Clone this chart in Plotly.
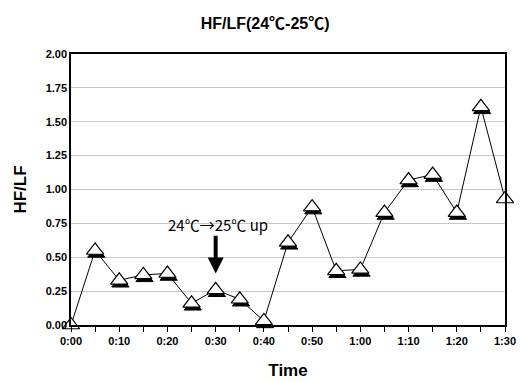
import plotly.graph_objects as go

times = ["0:00","0:05","0:10","0:15","0:20","0:25","0:30","0:35","0:40","0:45",
         "0:50","0:55","1:00","1:05","1:10","1:15","1:20","1:25","1:30"]
hf_lf = [0.00,0.55,0.33,0.37,0.38,0.16,0.26,0.19,0.03,0.61,
         0.87,0.40,0.41,0.83,1.07,1.11,0.83,1.61,0.93]
y_ticks = [0,0.25,0.5,0.75,1.0,1.25,1.5,1.75,2.0]
y_ticklabels = ["0.00","0.25","0.50","0.75","1.00","1.25","1.50","1.75","2.00"]

idx = list(range(len(times)))
bold = "Liberation Sans, Arial, sans-serif"

fig = go.Figure()
fig.add_trace(go.Scatter(
    x=idx, y=hf_lf, mode="lines", cliponaxis=False,
    line=dict(color="black", width=1), hoverinfo="skip", showlegend=False))
# shadow under markers
fig.add_trace(go.Scatter(
    x=[i + 0.05 for i in idx], y=[v - 0.022 for v in hf_lf], mode="markers", cliponaxis=False,
    marker=dict(symbol="triangle-up", size=15, color="black",
                line=dict(color="black", width=1)),
    hoverinfo="skip", showlegend=False))
fig.add_trace(go.Scatter(
    x=idx, y=hf_lf, mode="markers", cliponaxis=False,
    marker=dict(symbol="triangle-up", size=15, color="white",
                line=dict(color="black", width=1.2)),
    showlegend=False))

fig.add_annotation(
    x=6, y=0.38, xref="x", yref="y",
    ax=6, ay=0.67, axref="x", ayref="y",
    showarrow=True, arrowhead=2, arrowsize=0.8, arrowwidth=4, arrowcolor="black",
    text="")
fig.add_annotation(
    x=6.1, y=0.74, xref="x", yref="y", showarrow=False,
    text="24℃→25℃ up", font=dict(family="Noto Sans CJK KR, Liberation Sans", size=15, color="black"),
    yanchor="middle")

fig.update_layout(
    width=525, height=382,
    margin=dict(l=71, r=20, t=54, b=57),
    paper_bgcolor="white", plot_bgcolor="white",
    title=dict(text="<b>HF/LF(24℃-25℃)</b>", x=0.505, xanchor="center", y=0.94, yanchor="middle",
               font=dict(family="Liberation Sans, Noto Sans CJK KR", size=16, color="black")),
    xaxis=dict(
        range=[0, 18], tickmode="array", tickvals=idx, automargin=False,
        ticktext=[f"<b>{t}</b>" if i % 2 == 0 else "" for i, t in enumerate(times)],
        ticks="outside", ticklen=5, tickcolor="black", showgrid=False,
        showline=True, linecolor="black", linewidth=1.5, mirror=True,
        tickfont=dict(family=bold, size=11, color="black"),
        title=dict(text="<b>Time</b>", font=dict(family=bold, size=17, color="black"), standoff=18),
        zeroline=False),
    yaxis=dict(
        range=[0, 2], tickmode="array", tickvals=y_ticks, automargin=False,
        ticktext=[f"<b>{t}</b>" for t in y_ticklabels],
        ticks="", showgrid=True, gridcolor="#c8c8c8", gridwidth=1,
        showline=True, linecolor="black", linewidth=1.5, mirror=True,
        tickfont=dict(family=bold, size=11, color="black"),
        title=dict(text="<b>HF/LF</b>", font=dict(family=bold, size=17, color="black"), standoff=15),
        zeroline=False),
)

fig.write_html("out.html")
